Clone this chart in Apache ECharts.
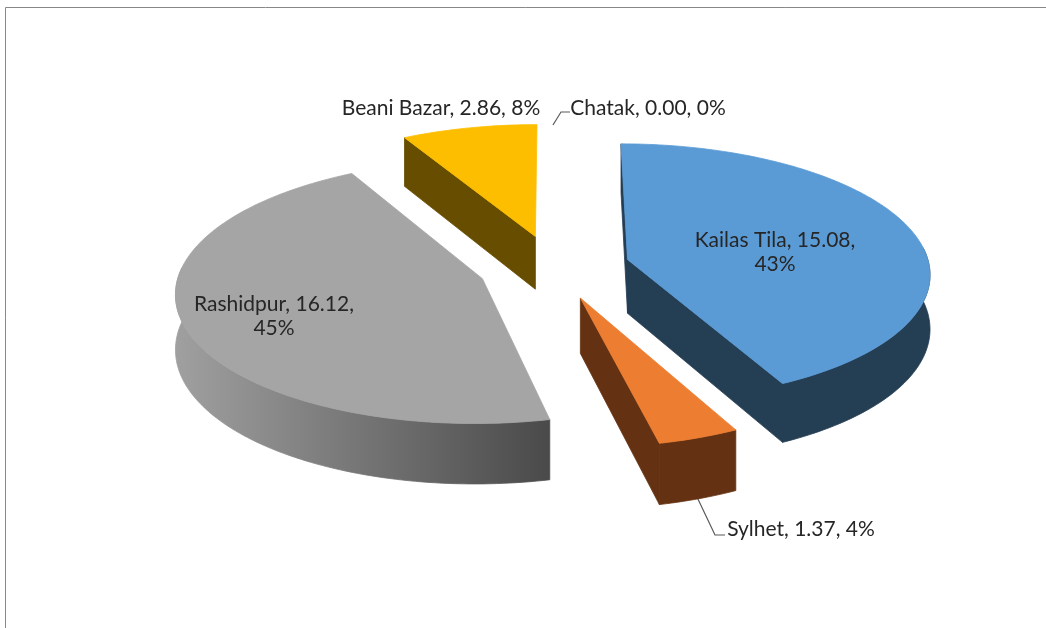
<!DOCTYPE html>
<html>
<head>
<meta charset="utf-8">
<style>
  html, body { margin: 0; padding: 0; background: #fff; }
  #chart { width: 1046px; height: 628px; }
</style>
<script src="https://cdn.jsdelivr.net/npm/echarts@6/dist/echarts.min.js"></script>
</head>
<body>
<div id="chart"></div>
<script>
// slices go clockwise from 12 o'clock
const names = ["Kailas Tila", "Sylhet", "Rashidpur", "Beani Bazar", "Chatak"];
const values = [15.08, 1.37, 16.12, 2.86, 0.0];
const topColors = ["#5B9BD5", "#ED7D31", "#A5A5A5", "#FDBE00", "#4472C4"];
const wallColors = ["#243E54", "#643212", "#808080", "#664D00", "#243E54"];

const total = values.reduce((a, b) => a + b, 0);

// fake 3d camera, tuned by eye against the picture
const cx = 554, cy = 267;
const radius = 302, explode = 76, thick = 54;
const cam = 3100, tilt = 0.425;

function project(x, y, z) {
  const s = cam / (cam - y);
  return [cx + x * s, cy + (tilt * y + z) * s];
}

function sliceShapes(idx, startAngle, endAngle) {
  const mid = (startAngle + endAngle) / 2;
  const ox = explode * Math.sin(mid);
  const oy = -explode * Math.cos(mid);
  const at = (a, r, z) => project(ox + r * Math.sin(a), oy - r * Math.cos(a), z);

  const steps = Math.max(2, Math.ceil((endAngle - startAngle) / 0.02));
  const top = [], wallTop = [], wallLow = [];
  for (let i = 0; i <= steps; i++) {
    const a = startAngle + (endAngle - startAngle) * i / steps;
    top.push(at(a, radius, 0));
    // the rim only shows on the front half
    if (Math.cos(a) < 0.1) {
      wallTop.push(at(a, radius, 0));
      wallLow.push(at(a, radius, thick));
    }
  }
  const apexTop = at(0, 0, 0), apexLow = at(0, 0, thick);
  const lowStart = at(startAngle, radius, thick), lowEnd = at(endAngle, radius, thick);

  const wallFill = idx === 2
    ? new echarts.graphic.LinearGradient(175, 0, 549, 0, [
        { offset: 0, color: "#A0A0A0" },
        { offset: 1, color: "#4A4A4A" }
      ], true)
    : wallColors[idx];

  const poly = (points, fill) => ({
    type: "polygon",
    shape: { points },
    style: { fill, stroke: fill, lineWidth: 0.8 }
  });

  const parts = [];
  // cut faces, only the ones turned to the viewer (skip edge-on slivers too)
  const cuts = [
    [apexTop, top[0], lowStart, apexLow],
    [top[steps], apexTop, apexLow, lowEnd]
  ];
  cuts.forEach((q) => {
    let area = 0;
    q.forEach((p, i) => {
      const n = q[(i + 1) % 4];
      area += p[0] * n[1] - n[0] * p[1];
    });
    if (area < -300) parts.push(poly(q, wallColors[idx]));
  });
  if (wallTop.length > 1) parts.push(poly(wallTop.concat(wallLow.reverse()), wallFill));
  parts.push(poly([apexTop].concat(top), topColors[idx]));
  return parts;
}

const labelFont = '21px Lato, sans-serif';
const pct = (i) => Math.round(values[i] / total * 100) + "%";
const labelText = (i) => names[i] + ", " + values[i].toFixed(2) + ", " + pct(i);
const wrapped = (i) => names[i] + ", " + values[i].toFixed(2) + ",\n" + pct(i);

const labels = [
  { text: wrapped(0), x: 775, y: 252 },
  { text: labelText(1), x: 801, y: 529 },
  { text: wrapped(2), x: 274, y: 316 },
  { text: labelText(3), x: 441, y: 108 },
  { text: labelText(4), x: 648, y: 108 }
];

const chart = echarts.init(document.getElementById("chart"));
chart.setOption({
  animation: false,
  graphic: [
    { type: "polyline", silent: true, shape: { points: [[5.5, 628], [5.5, 7.5], [1046, 7.5]] }, style: { fill: null, stroke: "#888", lineWidth: 1 } },
    { type: "polyline", silent: true, shape: { points: [[553, 125], [561, 112], [570, 112]] }, style: { fill: null, stroke: "#595959", lineWidth: 1.2 } },
    { type: "polyline", silent: true, shape: { points: [[697, 497], [715, 535], [725, 535]] }, style: { fill: null, stroke: "#595959", lineWidth: 1.2 } }
  ].concat(labels.map((l) => ({
    type: "text",
    silent: true,
    z: 10,
    x: l.x,
    y: l.y,
    style: { text: l.text, font: labelFont, fill: "#262626", align: "center", verticalAlign: "middle", lineHeight: 24 }
  }))),
  series: [{
    type: "custom",
    coordinateSystem: "none",
    data: values.map((v, i) => [i, v]),
    renderItem(params, api) {
      const idx = api.value(0);
      let before = 0;
      for (let i = 0; i < idx; i++) before += values[i];
      const a0 = before / total * Math.PI * 2;
      const a1 = (before + api.value(1)) / total * Math.PI * 2;
      if (a1 <= a0) return null;
      return { type: "group", children: sliceShapes(idx, a0, a1) };
    }
  }]
});
</script>
</body>
</html>
